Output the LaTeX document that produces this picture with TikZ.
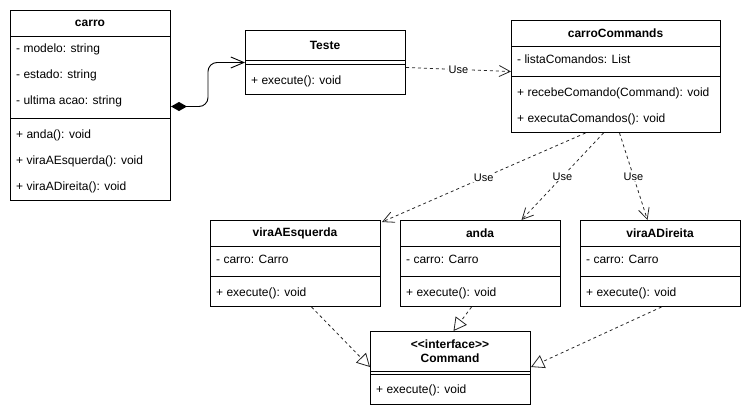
\documentclass[tikz,border=0pt]{standalone}
\usepackage{fontspec}
\setmainfont{Liberation Sans}
\usetikzlibrary{arrows.meta,calc}
\begin{document}
\begin{tikzpicture}[x=1pt,y=-1pt,
  font=\fontsize{12}{14}\selectfont,
  classbox/.style={draw=black, line width=1pt, fill=white, anchor=north west, inner sep=0pt},
  sepline/.style={draw=black, line width=1pt},
  title/.style={inner sep=0pt, font=\fontsize{12}{14}\selectfont\bfseries},
  member/.style={anchor=west, inner sep=0pt},
  usedep/.style={draw=black!85, line width=0.8pt, dash pattern=on 3pt off 3pt,
    -{Straight Barb[length=11pt, width=11pt, line width=0.8pt]}},
  realize/.style={draw=black!85, line width=0.8pt, dash pattern=on 3pt off 3pt,
    -{Triangle[length=13pt, width=14pt, fill=white, line width=0.8pt]}},
  uselabel/.style={fill=white, inner sep=1pt, font=\fontsize{11}{13}\selectfont},
]
\useasboundingbox (0,0) rectangle (751,418);

% ---- class carro ----
\node[classbox, minimum width=160pt, minimum height=190pt] (carro) at (10,10) {};
\draw[sepline] ([yshift=-26pt]carro.north west) -- ([yshift=-26pt]carro.north east);
\draw[sepline] ([yshift=-108pt]carro.north west) -- ([yshift=-108pt]carro.north east);
\node[title] (carroT) at (90,23) {carro};
\node[member] (carroA1) at (16,49) {- modelo: string};
\node[member] (carroA2) at (16,75) {- estado: string};
\node[member] (carroA3) at (16,101) {- ultima acao: string};
\node[member] (carroM1) at (16,135) {+ anda(): void};
\node[member] (carroM2) at (16,161) {+ viraAEsquerda(): void};
\node[member] (carroM3) at (16,187) {+ viraADireita(): void};

% ---- class Teste ----
\node[classbox, minimum width=160pt, minimum height=64pt] (teste) at (245,30) {};
\draw[sepline] ([yshift=-30.5pt]teste.north west) -- ([yshift=-30.5pt]teste.north east);
\draw[sepline] ([yshift=-34pt]teste.north west) -- ([yshift=-34pt]teste.north east);
\node[title] (testeT) at (325,45) {Teste};
\node[member] (testeM1) at (251,81) {+ execute(): void};

% ---- class carroCommands ----
\node[classbox, minimum width=209pt, minimum height=112pt] (cc) at (511,20) {};
\draw[sepline] ([yshift=-26pt]cc.north west) -- ([yshift=-26pt]cc.north east);
\draw[sepline] ([yshift=-56pt]cc.north west) -- ([yshift=-56pt]cc.north east);
\node[title] (ccT) at (615.5,33) {carroCommands};
\node[member] (ccA1) at (517,59) {- listaComandos: List};
\node[member] (ccM1) at (517,93) {+ recebeComando(Command): void};
\node[member] (ccM2) at (517,119) {+ executaComandos(): void};

% ---- concrete commands ----
\node[classbox, minimum width=170pt, minimum height=86pt] (vae) at (210,220) {};
\draw[sepline] ([yshift=-26pt]vae.north west) -- ([yshift=-26pt]vae.north east);
\draw[sepline] ([yshift=-56pt]vae.north west) -- ([yshift=-56pt]vae.north east);
\node[title] (vaeT) at (295,233) {viraAEsquerda};
\node[member] (vaeA1) at (216,259) {- carro: Carro};
\node[member] (vaeM1) at (216,293) {+ execute(): void};

\node[classbox, minimum width=160pt, minimum height=86pt] (anda) at (400,220) {};
\draw[sepline] ([yshift=-26pt]anda.north west) -- ([yshift=-26pt]anda.north east);
\draw[sepline] ([yshift=-56pt]anda.north west) -- ([yshift=-56pt]anda.north east);
\node[title] (andaT) at (480,233) {anda};
\node[member] (andaA1) at (406,259) {- carro: Carro};
\node[member] (andaM1) at (406,293) {+ execute(): void};

\node[classbox, minimum width=160pt, minimum height=86pt] (vad) at (580,220) {};
\draw[sepline] ([yshift=-26pt]vad.north west) -- ([yshift=-26pt]vad.north east);
\draw[sepline] ([yshift=-56pt]vad.north west) -- ([yshift=-56pt]vad.north east);
\node[title] (vadT) at (660,233) {viraADireita};
\node[member] (vadA1) at (586,259) {- carro: Carro};
\node[member] (vadM1) at (586,293) {+ execute(): void};

% ---- interface Command ----
\node[classbox, minimum width=160pt, minimum height=73pt] (cmd) at (370,331) {};
\draw[sepline] ([yshift=-40pt]cmd.north west) -- ([yshift=-40pt]cmd.north east);
\draw[sepline] ([yshift=-43.5pt]cmd.north west) -- ([yshift=-43.5pt]cmd.north east);
\node[title] (cmdS) at (450,344) {<{}<interface>{}>};
\node[title] (cmdT) at (450,358) {Command};
\node[member] (cmdM1) at (376,390) {+ execute(): void};

% ---- composition carro -> Teste ----
\draw[black, line width=0.9pt, rounded corners=9pt,
  {Diamond[length=16pt, width=9pt, fill=black]}-{Straight Barb[length=13pt, width=11pt, line width=0.9pt]}]
  ([yshift=-1pt]carro.east) -| ($(teste.west)+(-37,0)$) -- (teste.west);

% ---- dependencies ----
\draw[usedep] ([yshift=-5pt]teste.east) -- node[uselabel] (u0) {Use} ([yshift=5pt]cc.west);
\draw[usedep] ([xshift=-30.5pt]cc.south) -- node[uselabel] (u1) {Use} ([xshift=1pt,yshift=-2pt]vae.north east);
\draw[usedep] ([xshift=-12.5pt]cc.south) -- node[uselabel] (u2) {Use} ([xshift=41pt]anda.north);
\draw[usedep] ([xshift=3.5pt]cc.south) -- node[uselabel] (u3) {Use} ([xshift=-13pt]vad.north);

% ---- realizations ----
\draw[realize] ([xshift=16pt]vae.south) -- ([yshift=1pt]cmd.west);
\draw[realize] ([xshift=-9pt]anda.south) -- ([xshift=3pt]cmd.north);
\draw[realize] ([xshift=1pt]vad.south) -- ([yshift=1pt]cmd.east);
\end{tikzpicture}
\end{document}
